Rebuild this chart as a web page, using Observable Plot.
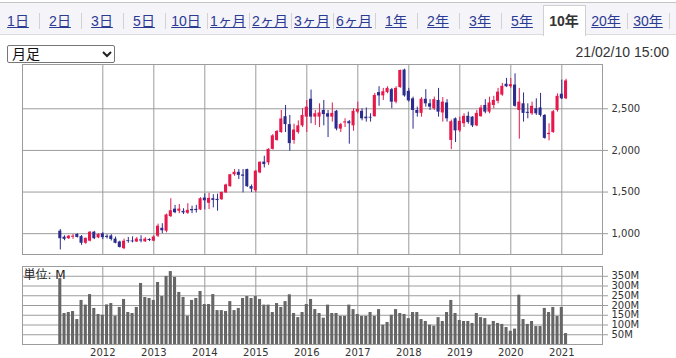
<!DOCTYPE html>
<html><head><meta charset="utf-8">
<script src="https://cdn.jsdelivr.net/npm/d3@7"></script>
<script src="https://cdn.jsdelivr.net/npm/@observablehq/plot@0.6"></script>
<style>
body{margin:0;background:#fff;}
#wrap{position:relative;width:676px;height:358px;overflow:hidden;background:#fff;font-family:"Liberation Sans","Noto Sans CJK JP",sans-serif;}
#strip{position:absolute;left:0;top:2px;width:676px;height:31px;background:#f4f4f9;border-top:1px solid #c4c4c4;border-bottom:1px solid #dcdcdc;}
.tab{position:absolute;top:13px;height:17px;line-height:17px;width:42px;text-align:center;font-size:14px;}
.tab a{color:#2b3a93;text-decoration:underline;}
.sep{position:absolute;top:13px;width:1px;height:16px;background:#d2d2d2;}
#selbox{position:absolute;left:543px;top:5px;width:41px;height:30px;background:#fff;border:1px solid #d0d0d0;border-bottom:none;}
.tab.sel{font-weight:bold;color:#333;}
#select{position:absolute;left:7px;top:45px;width:106px;height:16px;border:1px solid #767676;border-radius:2px;background:#fff;}
#select span{position:absolute;left:4px;top:0;font-size:14px;line-height:16px;color:#111;}
#select svg{position:absolute;left:94px;top:5px;}
#stamp{position:absolute;right:7px;top:44px;font-size:14px;line-height:16px;color:#333;}
#price{position:absolute;left:0;top:60px;}
#vol{position:absolute;left:0;top:262px;}
</style></head>
<body>
<div id="wrap">
  <div id="strip"></div>
  <div id="selbox"></div>
  <div id="tabsHolder"></div>
  <div id="select"><span>月足</span><svg width="10" height="7"><path d="M1 1 L5 5 L9 1" fill="none" stroke="#222" stroke-width="2"/></svg></div>
  <div id="stamp">21/02/10 15:00</div>
  <div id="price"></div>
  <div id="vol"></div>
</div>
<script>
// ---- data ----
const tabLabels = ["1日","2日","3日","5日","10日","1ヶ月","2ヶ月","3ヶ月","6ヶ月","1年","2年","3年","5年","10年","20年","30年"];
const selectedTab = "10年";
const startYear = 2011, startMonth = 3; // first monthly candle: 2011-03
const open  = [1030,958,940,958,990,965,885,910,1018,950, 998,968,972,935,900,820,915,912,900,925, 902,930,910,970,1065,1030,1205,1295,1270,1268, 1245,1290,1292,1285,1428,1365,1420,1412,1408,1490, 1565,1708,1737,1705,1770,1565,1515,1730,1860,1850, 2013,2120,2215,2405,2310,2120,2215,2295,2400,2615, 2400,2400,2480,2440,2400,2470,2256,2330,2345,2295, 2460,2470,2400,2398,2405,2695,2655,2695,2730,2580, 2755,2965,2710,2620,2480,2445,2615,2560,2500,2600, 2450,2570,2120,2380,2235,2320,2410,2400,2295,2405, 2540,2460,2540,2590,2665,2795,2765,2785,2480,2560, 2458,2440,2500,2510,2420,2190,2215,2480,2675,2620];
const high  = [1050,975,978,990,1000,978,945,1025,1028,1000, 1012,988,988,960,910,935,955,962,955,975, 952,940,975,1115,1120,1235,1420,1340,1350,1300, 1360,1330,1340,1432,1478,1485,1468,1475,1500,1595, 1712,1770,1770,1770,1775,1585,1760,1862,1930,2020, 2190,2240,2480,2540,2420,2315,2355,2500,2600,2725, 2480,2560,2600,2480,2570,2480,2325,2380,2360,2500, 2580,2500,2510,2440,2685,2765,2745,2765,2745,2765, 2965,2975,2745,2640,2520,2635,2730,2610,2640,2745, 2635,2610,2365,2390,2400,2440,2460,2405,2480,2540, 2610,2640,2650,2745,2805,2865,2865,2920,2745,2690, 2560,2580,2620,2685,2430,2320,2480,2680,2845,2855];
const low   = [805,915,930,932,948,860,872,902,928,940, 928,936,912,878,828,808,885,890,895,890, 895,905,905,955,1000,1010,1195,1240,1240,1230, 1232,1240,1248,1278,1285,1290,1310,1270,1400,1485, 1558,1690,1650,1490,1555,1495,1495,1720,1790,1820, 2005,2110,2205,2215,1990,2075,2195,2275,2215,2320, 2300,2275,2295,2155,2340,2235,2215,2275,2075,2230, 2440,2355,2340,2340,2400,2530,2600,2680,2500,2560, 2745,2640,2580,2255,2400,2400,2520,2480,2480,2400, 2340,2340,2010,2095,2215,2275,2315,2275,2285,2400, 2440,2440,2500,2560,2650,2755,2745,2520,2135,2340, 2380,2420,2420,2400,2135,2115,2205,2460,2610,2610];
const close = [940,932,970,970,955,885,945,1018,940,990, 952,955,930,885,835,910,905,902,935,912, 935,918,960,1090,1035,1225,1275,1252,1295,1250, 1280,1275,1278,1420,1395,1424,1400,1398,1495,1585, 1708,1737,1700,1690,1565,1535,1750,1858,1830,2013, 2175,2228,2378,2310,2082,2245,2295,2420,2520,2400, 2440,2450,2430,2400,2445,2256,2310,2342,2320,2470, 2492,2380,2380,2388,2660,2655,2705,2745,2580,2745, 2960,2655,2595,2480,2445,2615,2560,2520,2610,2460, 2580,2380,2345,2235,2350,2410,2335,2295,2445,2510, 2460,2570,2600,2700,2770,2765,2790,2530,2580,2445, 2445,2530,2440,2420,2145,2205,2465,2650,2620,2835];
const volume = [338,159,164,169,128,226,202,256,185,154, 150,203,210,145,190,231,164,159,190,313, 241,236,226,318,246,349,374,344,267,241, 145,226,236,272,205,205,256,174,174,169, 220,174,185,236,246,236,246,231,202,202, 164,210,190,220,255,159,138,164,205,231, 179,159,135,202,159,159,144,144,202,179, 154,144,144,164,144,179,99,113,150,179, 159,154,133,164,164,128,118,99,94,138, 118,164,226,159,123,118,118,108,159,138, 133,99,118,108,103,87,68,79,253,128, 103,118,92,92,185,164,190,144,190,56];
const yearLabels = [2012,2013,2014,2015,2016,2017,2018,2019,2020,2021];
const priceTicks = [1000,1500,2000,2500];
const volTicks = [50,100,150,200,250,300,350];

// ---- header tabs ----
const holder = document.getElementById("tabsHolder");
tabLabels.forEach((lab, i) => {
  const left = -3 + 42 * i;
  const d = document.createElement("div");
  d.className = "tab" + (lab === selectedTab ? " sel" : "");
  d.style.left = left + "px";
  if (lab === selectedTab) d.textContent = lab;
  else { const a = document.createElement("a"); a.textContent = lab; d.appendChild(a); }
  holder.appendChild(d);
  const next = tabLabels[i + 1];
  if (lab !== selectedTab && next !== selectedTab) {
    const s = document.createElement("div");
    s.className = "sep"; s.style.left = (left + 42) + "px";
    holder.appendChild(s);
  }
});

// ---- build rows ----
const t0 = (startYear - 2012) * 12 + (startMonth - 1);
const rows = open.map((o, i) => ({t: t0 + i, open: o, high: high[i], low: low[i], close: close[i], vol: volume[i]}));
const yearT = yearLabels.map(y => (y - 2012) * 12);
const up = "#e5194b", down = "#2c2b8e";
const col = d => d.close >= d.open ? up : down;
const xDomain = [-18.894, 117.576];
const fontStyle = {fontFamily: "'DejaVu Sans',sans-serif", fontSize: "10px", color: "#333", background: "transparent", overflow: "visible"};
const gridC = "#9c9c9c";

const price = Plot.plot({
  width: 676, height: 198, marginTop: 4, marginBottom: 4, marginLeft: 22, marginRight: 74,
  style: fontStyle,
  x: {domain: xDomain, axis: null, label: null},
  y: {domain: [750, 3032], axis: null, label: null},
  marks: [
    Plot.gridY(priceTicks, {stroke: gridC, strokeOpacity: 1}),
    Plot.gridX(yearT, {stroke: gridC, strokeOpacity: 1}),
    Plot.frame({stroke: gridC}),
    Plot.axisY(priceTicks, {anchor: "right", label: null, tickSize: 5, tickPadding: 4, tickFormat: d3.format(","), stroke: gridC, fill: "#333"}),
    Plot.ruleX(rows, {x: "t", y1: "low", y2: "high", stroke: col, strokeWidth: 1}),
    Plot.rect(rows, {x1: d => d.t - 0.36, x2: d => d.t + 0.36, y1: "open", y2: "close", fill: col})
  ]
});
document.getElementById("price").appendChild(price);

const vol = Plot.plot({
  width: 676, height: 96, marginTop: 4, marginBottom: 14, marginLeft: 22, marginRight: 74,
  style: fontStyle,
  x: {domain: xDomain, axis: null, label: null},
  y: {domain: [0, 400], axis: null, label: null},
  marks: [
    Plot.gridY(volTicks, {stroke: gridC, strokeOpacity: 1}),
    Plot.gridX(yearT, {stroke: gridC, strokeOpacity: 1}),
    Plot.frame({stroke: gridC}),
    Plot.axisY(volTicks, {anchor: "right", label: null, tickSize: 5, tickPadding: 4, tickFormat: d => d + "M", stroke: gridC, fill: "#333"}),
    Plot.axisX(yearT, {anchor: "bottom", label: null, tickSize: 0, tickPadding: 4, tickFormat: t => String(2012 + t / 12), fill: "#333"}),
    Plot.rect(rows, {x1: d => d.t - 0.36, x2: d => d.t + 0.36, y1: 0, y2: "vol", fill: "#666"}),
    Plot.text(["単位: M"], {frameAnchor: "top-left", textAnchor: "start", lineAnchor: "middle", dx: 1, dy: 9, fontSize: 12, fill: "#222", fontFamily: "'DejaVu Sans','Noto Sans CJK JP',sans-serif"})
  ]
});
document.getElementById("vol").appendChild(vol);
</script>
</body></html>
